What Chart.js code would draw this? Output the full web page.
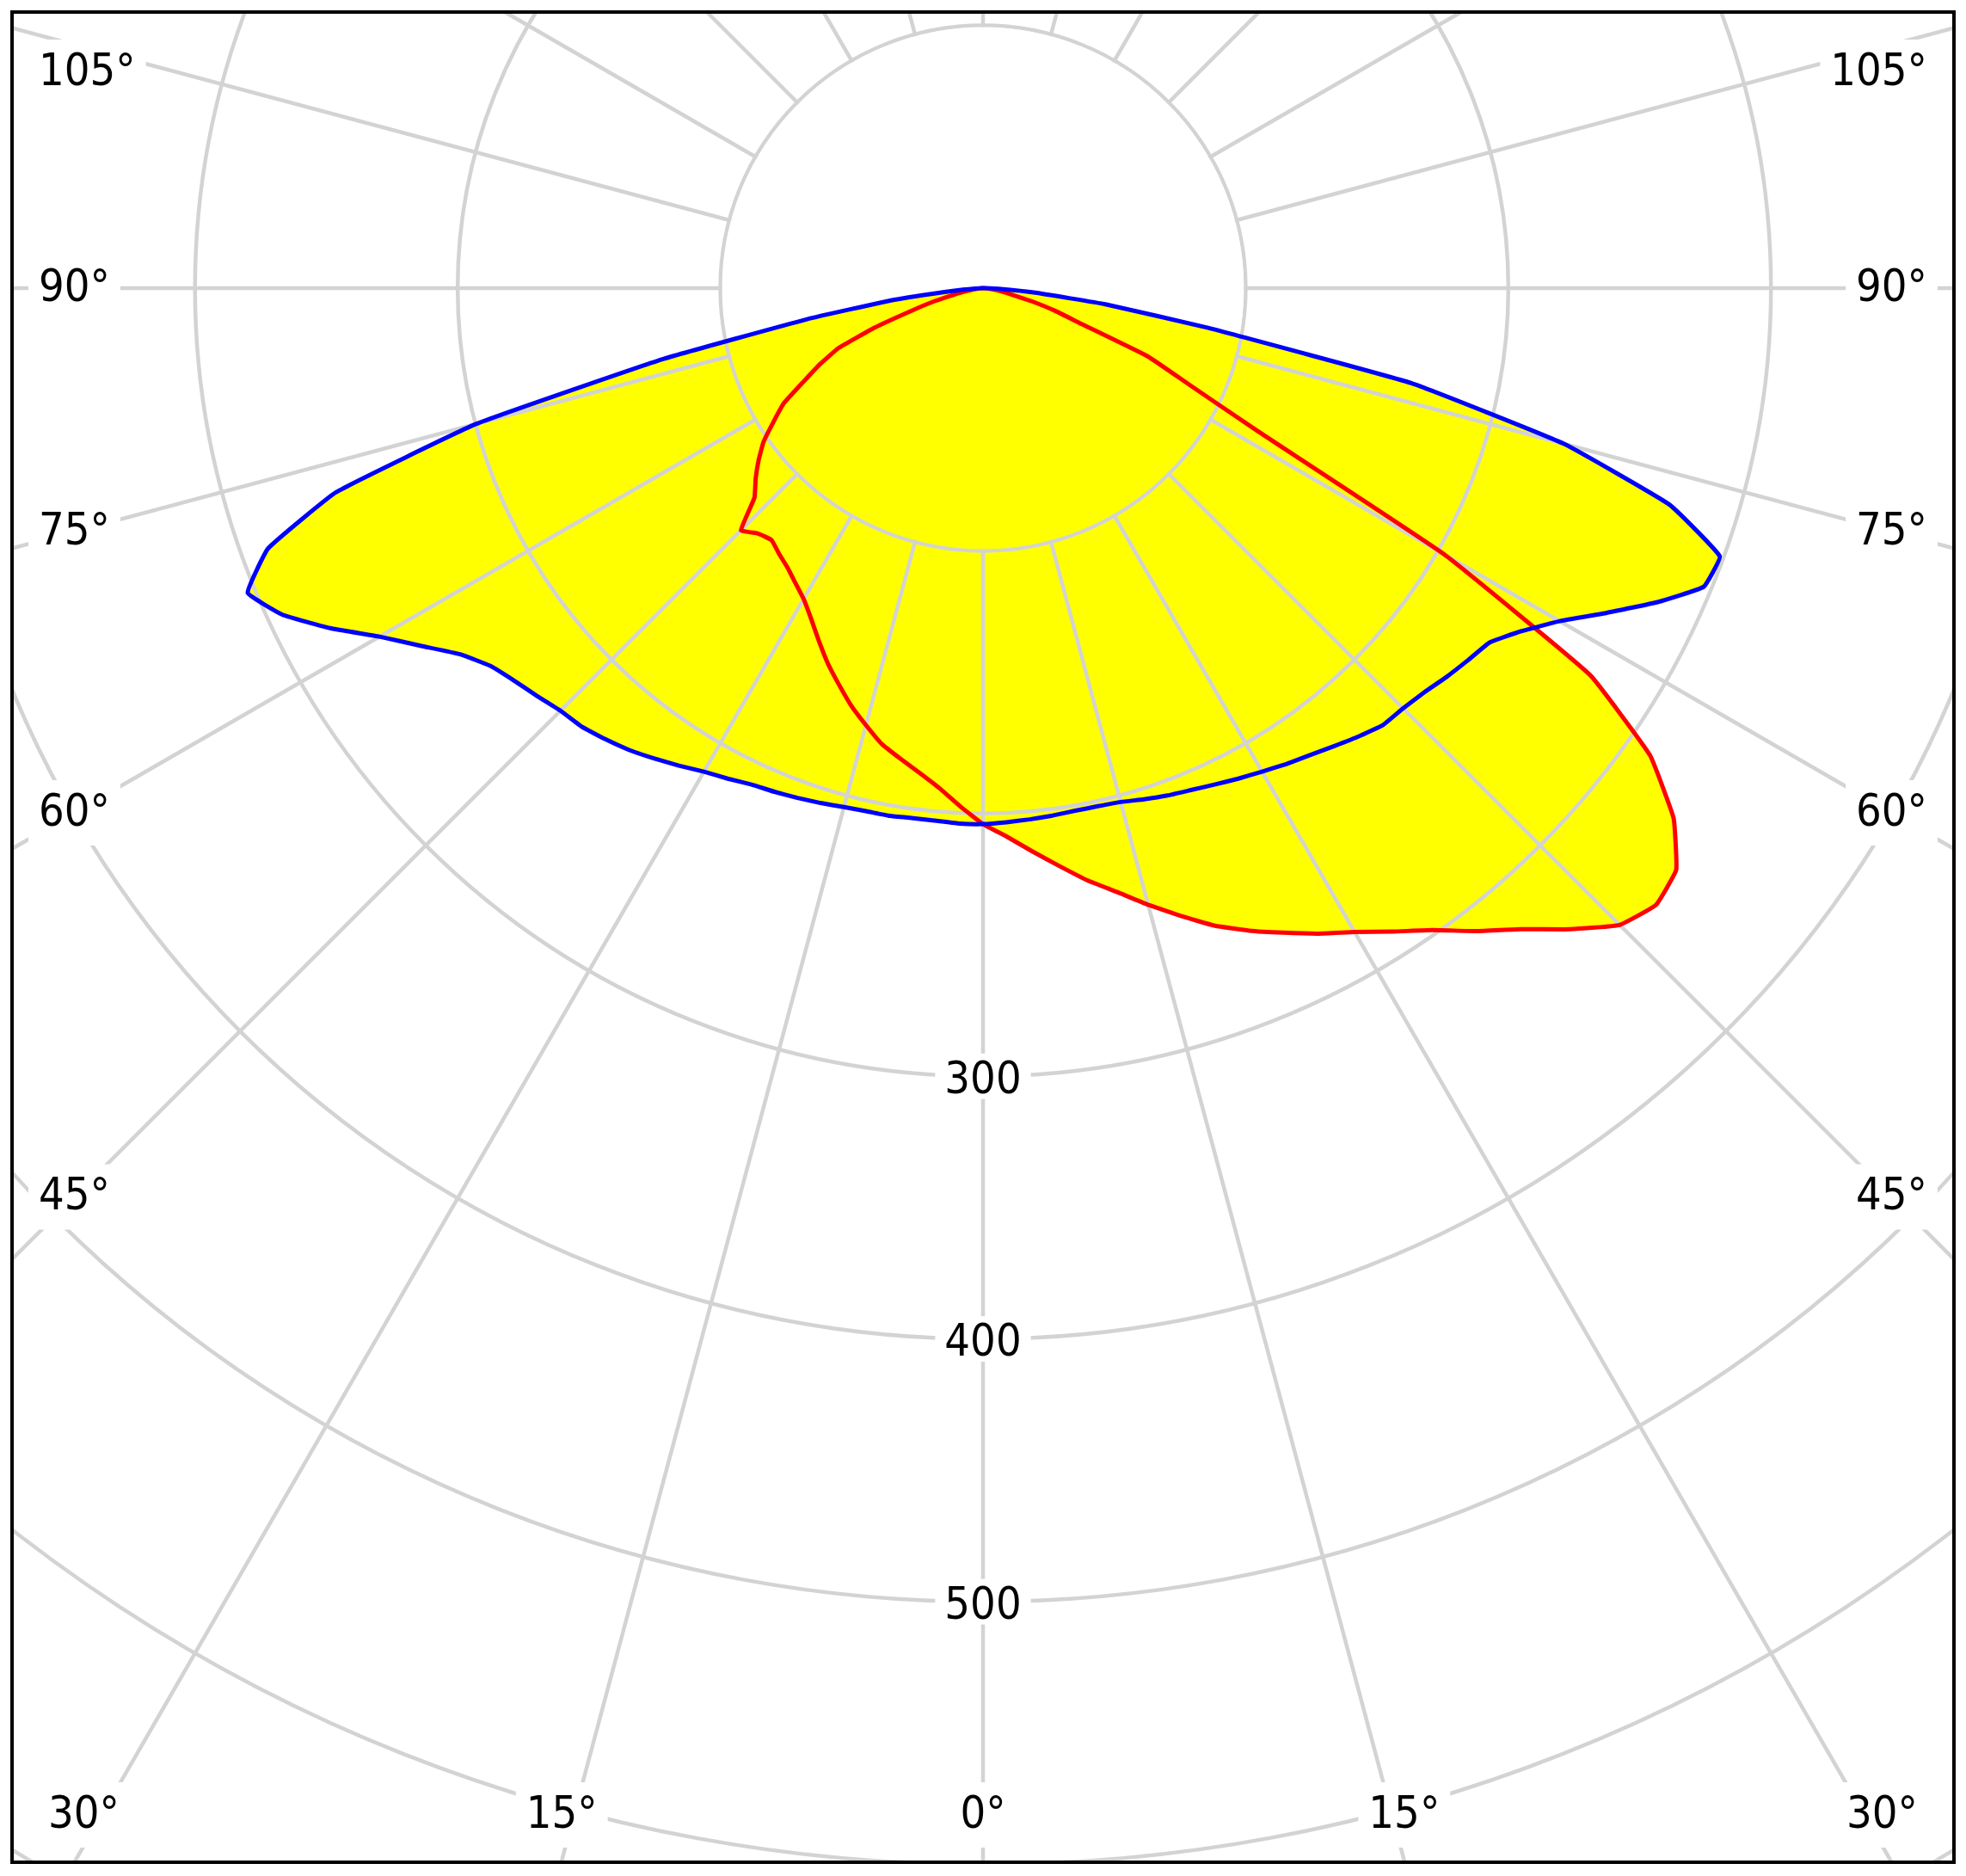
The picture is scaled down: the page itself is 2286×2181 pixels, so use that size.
<!DOCTYPE html>
<html>
<head>
<meta charset="utf-8">
<script src="https://cdn.jsdelivr.net/npm/chart.js@4.4.1/dist/chart.umd.min.js"></script>
<style>
  html, body { margin: 0; padding: 0; background: #fff; overflow: hidden; }
  #frame {
    position: absolute; left: 12px; top: 12px;
    width: 2262px; height: 2155px;
    border: 4px solid #000; box-sizing: border-box;
    overflow: hidden; background: #fff;
  }
  #c { position: absolute; }
</style>
</head>
<body>
<div id="frame"><canvas id="c" width="4398" height="4398"></canvas></div>
<script>
// gamma angles (deg from nadir) for each half plane, 2.5 deg steps
const gammas = [0, 2.5, 5, 7.5, 10, 12.5, 15, 17.5, 20, 22.5,
  25, 27.5, 30, 32.5, 35, 37.5, 40, 42.5, 45, 47.5,
  50, 52.5, 55, 57.5, 60, 62.5, 65, 67.5, 70, 72.5,
  75, 77.5, 80, 82.5, 85, 87.5, 90]

// luminous intensity (cd/klm), blue plane
const blueLeft = [204, 204, 203.5, 203.5, 204, 204, 204.5, 205.5, 206.5, 207.5,
  208.5, 210.5, 212.5, 215.5, 218.5, 221.5, 224, 226.3, 227.5, 230,
  232.7, 236.3, 243, 253.5, 265.3, 280.3, 294.2, 303, 289.6, 258.2,
  199.8, 125, 68, 34.5, 11, 3, 0]
const blueRight = [204, 203.5, 203, 202.5, 202, 202, 202.5, 204, 205.5, 206.8,
  208.5, 210.5, 212.5, 214.8, 217, 219.7, 222.7, 225.5, 226.2, 227.8,
  230.3, 232.7, 235.3, 243, 253.5, 267.7, 283, 297, 298.5, 274,
  229, 167, 87, 47, 20, 6, 0]

// red plane
const redLeft = [204, 197.5, 191, 186, 181.8, 177.8, 172.2, 166.7, 160.5, 154.5,
  148, 141.8, 136.6, 133, 129.8, 127.5, 125.2, 126.7, 130.3, 118,
  113, 107.7, 102, 94.5, 87.5, 77, 68.5, 59.5, 44, 28.5,
  19, 11, 6, 3.5, 2, 1, 0]
const redRight = [204, 209, 215.2, 221.8, 228.9, 235.4, 243, 250.6, 258.3, 264.7,
  270.7, 277, 283, 290.4, 298.3, 308.5, 318.5, 331, 342.8, 347.5,
  344.5, 331.4, 310, 274, 203, 118, 86, 68, 40, 29,
  19, 11, 7, 4, 2, 1, 0]

const radialTicks = [300, 400, 500]
const sideAngleLabels = [105, 90, 75, 60, 45]
const bottomAngleLabels = [30, 15, 0]

const STEPS = 144          // 360 / 2.5
const CENTER = { x: 1143, y: 335 }   // page position of the pole
const INNER = { left: 16, top: 16 }  // frame padding box origin
const FRAME = { half: 1127, top: -319, bottom: 1828 } // relative to pole
const FONT = '52px "DejaVu Sans Condensed", "DejaVu Sans", sans-serif'
const GRID = "#d3d3d3"

// index 0 points down, indices run clockwise (to the left side first)
const radarLabels = []
for (let i = 0; i < STEPS; i++) radarLabels.push(i * 2.5)

function planeSeries(left, right) {
  // nothing is emitted above 90 deg
  const out = new Array(STEPS).fill(0)
  left.forEach((v, i) => { out[i] = v })
  right.forEach((v, j) => { if (j > 0) out[STEPS - j] = v })
  return out
}

const polarDecor = {
  id: "polarDecor",
  beforeDraw(chart) {
    // keep grid out of the inner disc
    const s = chart.scales.r
    const ctx = chart.ctx
    ctx.save()
    ctx.beginPath()
    ctx.rect(0, 0, chart.width, chart.height)
    ctx.arc(s.xCenter, s.yCenter, s.getDistanceFromCenterForValue(100) - 2, 0, Math.PI * 2)
    ctx.clip("evenodd")
  },
  beforeDatasetsDraw(chart) {
    const s = chart.scales.r
    const ctx = chart.ctx
    ctx.restore()
    ctx.save()
    ctx.font = FONT
    ctx.textAlign = "center"
    ctx.textBaseline = "middle"
    radialTicks.forEach(v => {
      const y = s.yCenter + s.getDistanceFromCenterForValue(v)
      const t = String(v)
      const w = ctx.measureText(t).width
      ctx.fillStyle = "#fff"
      ctx.fillRect(s.xCenter - w / 2 - 11, y - 26.5, w + 22, 53)
      ctx.fillStyle = "#000"
      ctx.fillText(t, s.xCenter, y + 6)
    })
    ctx.restore()
  },
  afterDraw(chart) {
    const s = chart.scales.r
    const ctx = chart.ctx
    ctx.save()
    ctx.font = FONT
    ctx.textAlign = "center"
    ctx.textBaseline = "middle"
    const box = (t, cx, cy) => {
      const w = ctx.measureText(t).width
      ctx.fillStyle = "#fff"
      ctx.fillRect(cx - w / 2 - 12, cy - 38, w + 24, 76)
      ctx.fillStyle = "#000"
      ctx.fillText(t, cx, cy + 1)
    }
    sideAngleLabels.forEach(a => {
      const t = a + "°"
      const w = ctx.measureText(t).width
      const h = FRAME.half - 29 - w / 2
      const rad = a * Math.PI / 180
      const dy = Math.max(h * Math.cos(rad) / Math.sin(rad), FRAME.top + 68)
      box(t, s.xCenter - h, s.yCenter + dy)
      box(t, s.xCenter + h, s.yCenter + dy)
    })
    bottomAngleLabels.forEach(a => {
      const t = a + "°"
      const w = ctx.measureText(t).width
      // centred where the ray leaves the frame, kept clear of the side border
      const dx = Math.min(FRAME.bottom * Math.tan(a * Math.PI / 180), FRAME.half - 40 - w / 2)
      const y = s.yCenter + FRAME.bottom - 53
      box(t, s.xCenter - dx, y)
      if (a !== 0) box(t, s.xCenter + dx, y)
    })
    ctx.restore()
  }
}

const canvas = document.getElementById("c")
const chart = new Chart(canvas, {
  type: "radar",
  data: {
    labels: radarLabels,
    datasets: [
      {
        label: "C0 - C180",
        data: planeSeries(blueLeft, blueRight),
        borderColor: "#0000ff",
        backgroundColor: "#ffff00",
        borderWidth: 5,
        borderJoinStyle: "round",
        pointRadius: 0,
        tension: 0.1,
        fill: "origin"
      },
      {
        label: "C90 - C270",
        data: planeSeries(redLeft, redRight),
        borderColor: "#ff0000",
        backgroundColor: "#ffff00",
        borderWidth: 5,
        borderJoinStyle: "round",
        pointRadius: 0,
        tension: 0.1,
        fill: "origin"
      }
    ]
  },
  options: {
    responsive: false,
    animation: false,
    devicePixelRatio: 1,
    plugins: {
      legend: { display: false },
      tooltip: { enabled: false },
      filler: { drawTime: "beforeDraw" }
    },
    scales: {
      r: {
        min: 0,
        max: 720,
        startAngle: 180,
        ticks: { display: false, stepSize: 100 },
        grid: { circular: true, color: GRID, lineWidth: 4.5 },
        angleLines: {
          display: true,
          color: GRID,
          lineWidth: ctx => ctx.index % 6 === 0 ? 4.5 : 0
        },
        pointLabels: { display: false }
      }
    }
  },
  plugins: [polarDecor]
})

const r = chart.scales.r
canvas.style.left = (CENTER.x - INNER.left - r.xCenter) + "px"
canvas.style.top = (CENTER.y - INNER.top - r.yCenter) + "px"
</script>
</body>
</html>
